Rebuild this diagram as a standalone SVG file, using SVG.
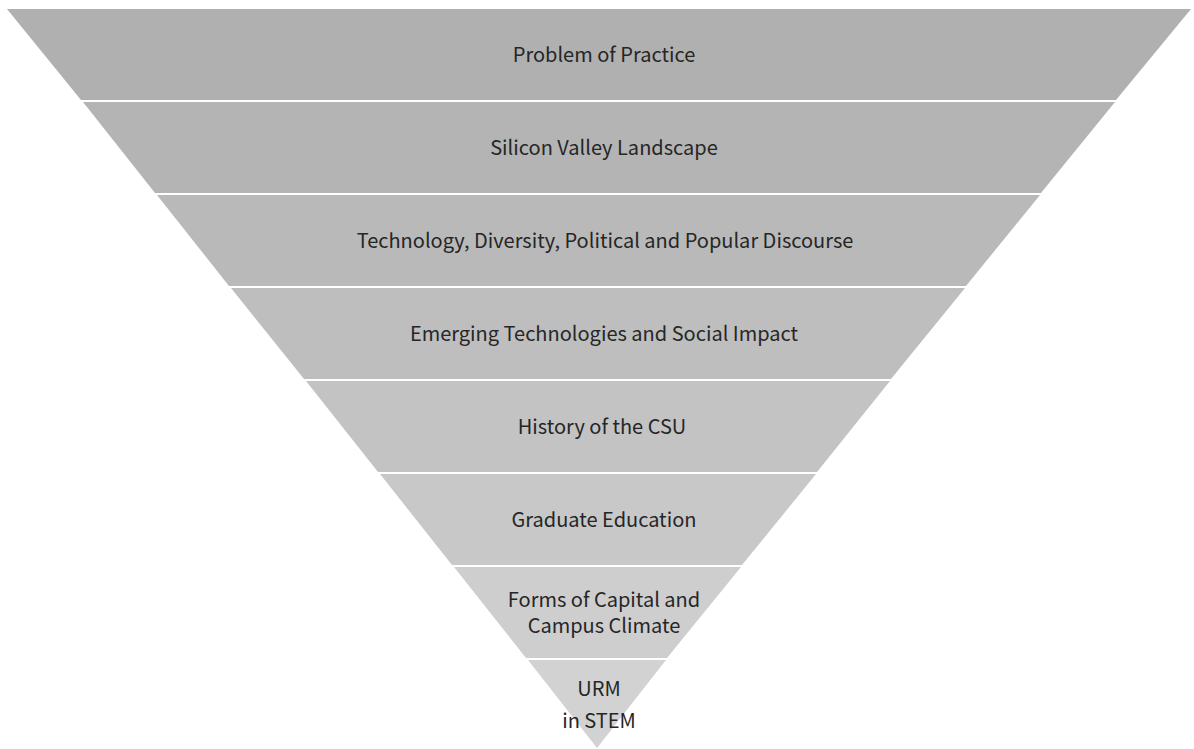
<svg xmlns="http://www.w3.org/2000/svg" width="1194" height="749" viewBox="0 0 1194 749">
  <style>
    .band { stroke: none; }
    .label { font-family: "Noto Sans CJK SC", "Noto Sans", sans-serif; font-size: 20px; fill: #262626; text-anchor: middle; }
  </style>
  <rect width="1194" height="749" fill="#ffffff"/>
  <!-- inverted triangle split into eight stacked bands -->
  <g id="band1"><polygon class="band" fill="#b0b0b0" points="7,9 1191,9 1116,100 81,100"/><text class="label" x="604" y="62">Problem of Practice</text></g>
  <g id="band2"><polygon class="band" fill="#b4b4b4" points="83,102 1115,102 1041,193 155,193"/><text class="label" x="604" y="155">Silicon Valley Landscape</text></g>
  <g id="band3"><polygon class="band" fill="#b9b9b9" points="157,195 1040,195 966,286 229,286"/><text class="label" x="605" y="248">Technology, Diversity, Political and Popular Discourse</text></g>
  <g id="band4"><polygon class="band" fill="#bebebe" points="231,288 965,288 891,379 304,379"/><text class="label" x="604" y="341">Emerging Technologies and Social Impact</text></g>
  <g id="band5"><polygon class="band" fill="#c3c3c3" points="306,381 890,381 817,472 378,472"/><text class="label" x="602" y="434">History of the CSU</text></g>
  <g id="band6"><polygon class="band" fill="#c8c8c8" points="380,474 816,474 742,565 452,565"/><text class="label" x="604" y="527">Graduate Education</text></g>
  <g id="band7"><polygon class="band" fill="#cecece" points="454,567 741,567 667,658 526,658"/><text class="label" x="604" y="607">Forms of Capital and</text><text class="label" x="604" y="633">Campus Climate</text></g>
  <g id="band8"><polygon class="band" fill="#d2d2d2" points="528,660 666,660 597,748"/><text class="label" x="599" y="696">URM</text><text class="label" x="599" y="728">in STEM</text></g>
</svg>
